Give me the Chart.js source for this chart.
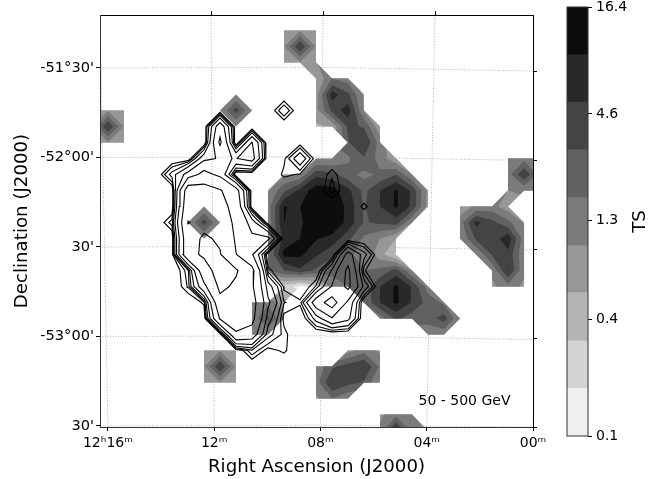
<!DOCTYPE html>
<html>
<head>
<meta charset="utf-8">
<title>TS map 50 - 500 GeV</title>
<script src="https://cdn.jsdelivr.net/npm/chart.js@4/dist/chart.umd.js"></script>
<style>
body { margin: 0; background: #fff; }
#wrap { position: relative; width: 666px; height: 479px; overflow: hidden; }
canvas { position: absolute; top: 0; }
#mapChart { left: 0; }
#barChart { left: 540px; }
</style>
</head>
<body>
<div id="wrap">
<canvas id="mapChart" width="666" height="479"></canvas>
<canvas id="barChart" width="126" height="479"></canvas>
</div>
<script>
//colour bar
const tsLevels = [0.1, 0.176, 0.31, 0.55, 0.96, 1.7, 3.0, 5.3, 9.3, 16.4];
const bandColours = ['#efefef', '#d3d3d3', '#b3b3b3', '#979797', '#7b7b7b', '#616161', '#444444', '#292929', '#0d0d0d'];
const barTicks = [0.1, 0.4, 1.3, 4.6, 16.4];

//axes
const raTicks = [16, 12, 8, 4, 0];
const raLabels = ['12ʰ16ᵐ', '12ᵐ', '08ᵐ', '04ᵐ', '00ᵐ'];
const raTopTicks = [12, 8, 4];
const decTicks = [-51.5, -52, -52.5, -53, -53.5];
const decLabels = ["-51°30'", "-52°00'", "30'", "-53°00'", "30'"];

//graticule, the sky grid is a little tilted against the frame
const raLines = [[16, 16.3], [12, 12.12], [8, 7.91], [4, 3.69], [0, -0.53]];
const decLines = [[-51.5, -51.496, -51.517], [-52, -51.996, -52.017], [-52.5, -52.496, -52.517], [-53, -52.996, -53.017], [-53.5, -53.496, -53.505]];

//TS map: [row, first column, values along the row]
//values are positions on the colour bar, 0 is TS 0.1 and 9 is TS 16.4. Nodes not listed are empty
const tsRows = [
    [0, 11, [3.9, 3.9, 3.9]],
    [1, 11, [3.9, 7, 3.9]],
    [2, 11, [3.9, 3.9, 3.9]],
    [3, 13, [3, 5, 4.5]],
    [4, 8, [3.9]], [4, 13, [3.5, 7.5, 6.2, 3.8]],
    [5, -1, [3.9, 3.9, 3.9]], [5, 7, [3.9, 6.5, 3.9]], [5, 13, [3.6, 6.3, 7.6, 3.9]],
    [6, -1, [3.9, 7, 3.9]], [6, 8, [3.9]], [6, 13, [2.8, 3.2, 6.2, 5.9, 3.2]],
    [7, -1, [3.9, 3.9, 3.9]], [7, 15, [5.9, 7.05, 4.5]],
    [8, 13, [3.9, 3.9, 4.8, 5.9, 4.6, 3.2]], [8, 25, [4.1, 4.6, 4.1]],
    [9, 11, [3.8, 4.2, 6.7, 6.3, 5.4, 4.7, 5.2, 5.95, 4.0]], [9, 25, [4.6, 6.9, 4.6]],
    [10, 10, [3.9, 5.8, 7.3, 8.6, 8.5, 7.3, 5.7, 7, 8.15, 6.8, 3.7]], [10, 25, [4, 4.2, 4]],
    [11, 6, [3.9]], [11, 10, [4.5, 8.005, 7.98, 8.9, 8.9, 7.7, 5.9, 7, 8.15, 6.8, 3.6]], [11, 22, [3.4, 4.2, 4.4, 3.4]],
    [12, 5, [3.9, 6.5, 3.9]], [12, 10, [4.3, 8.005, 7.8, 8.9, 8.8, 7.7, 5.9, 6.2, 6.5, 4]], [12, 22, [4.5, 7.3, 6.3, 5.3, 3.9]],
    [13, 6, [3.9]], [13, 10, [4.4, 7.4, 8, 8.1, 7.7, 6.3, 4.8, 4, 3]], [13, 22, [4, 6.2, 6.4, 7.7, 4.4]],
    [14, 10, [4.8, 8.3, 8.25, 7.2, 6.2, 5.1, 4.8, 3.4, 1.8]], [14, 23, [4, 6.1, 6.7, 4.2]],
    [15, 10, [5, 6, 6.8, 5.8, 5.3, 5, 5, 5.3, 6.4, 4]], [15, 24, [4.2, 7.1, 4.2]],
    [16, 11, [1.5, 0.5, 1.5, 4.5, 5, 5.2, 7, 8.2, 6.9, 4.5]], [16, 24, [3.8, 4.6, 3.8]],
    [17, 9, [4, 4.7, 3.5]], [17, 16, [5.2, 7, 8.2, 6.9, 5.6, 4.8]],
    [18, 9, [4.3, 6.2, 4]], [18, 17, [4.5, 6.2, 5.5, 5.5, 6.5, 4]],
    [19, 9, [4, 4]], [19, 20, [4.2, 4.2]],
    [20, 6, [3.9, 3.9, 3.9]], [20, 15, [3.6, 4.6, 3.8]],
    [21, 6, [3.9, 7, 3.9]], [21, 13, [4.2, 5.8, 6.5, 7.05, 4.8]],
    [22, 6, [3.9, 3.9, 3.9]], [22, 13, [4.5, 7.05, 6.3, 5.9, 3.8]],
    [23, 13, [3.8, 5, 4.2]],
    [24, 17, [3.8, 4.6, 4]],
    [25, 17, [4.2, 7.5, 4.5, 3.9]]
];

//second map, drawn as black contour lines. Nodes not listed are 0
const lineLevels = [1, 1.6, 2.5, 4, 6.3, 10, 16, 25];
const lineRows = [
    [5, 11, [2.45]],
    [6, 7, [8.4]],
    [7, 7, [10.8, 0, 6.4]], [7, 12, [0.5]],
    [8, 6, [5.5, 6.6, 6.2, 7.5]], [8, 11, [0.8, 3.63, 0.5]],
    [9, 4, [3, 7.5, 11.5, 9]], [9, 11, [1.2, 0.9]], [9, 14, [1.45]],
    [10, 5, [20, 19, 16.5, 12]], [10, 14, [2]],
    [11, 5, [22, 20, 18, 14]], [11, 16, [1.25]],
    [12, 4, [2, 25.3, 23, 19, 15, 8]],
    [13, 5, [22, 26, 24, 15, 11, 11]],
    [14, 5, [23, 26, 25.5, 16.2, 10.5]], [14, 15, [7.5, 3]],
    [15, 5, [2, 22, 28, 26, 18, 1.3]], [15, 14, [4.2, 11, 1.1]],
    [16, 5, [1.7, 14, 27, 23.5, 17, 5, 0.8]], [16, 13, [1.7, 6.5, 11, 3.5]],
    [17, 6, [1.2, 22.5, 24, 19, 7, 1.65, 1.2, 8, 12, 5.6]],
    [18, 7, [16.5, 20, 18, 5, 0.7]], [18, 13, [3, 6, 4.5]],
    [19, 8, [15, 13, 3, 1.3]],
    [20, 9, [2.2, 0.6, 1.2]]
];

//the map grid: column -1..27, row -1..25
const ra0 = 16, raStep = 0.6024, dec0 = -51.2905, decStep = 0.08939;
const nCols = 29, nRows = 27;

function makeGrid(rows, empty) {
    var grid = [];
    for (var r = 0; r < nRows; r++) {
        grid.push(new Array(nCols).fill(empty));
    }
    rows.forEach(function (row) {
        row[2].forEach(function (v, k) {
            grid[row[0] + 1][row[1] + 1 + k] = v;
        });
    });
    return grid;
}

//closed outlines of the part of the grid that is >= level
//a quad with one empty corner still gives its triangle, with two or more it is skipped
function contourLoops(grid, level) {
    var edges = {};
    function key(p) { return p[0].toFixed(4) + ',' + p[1].toFixed(4); }
    function addEdge(a, b) {
        var ka = key(a), kb = key(b);
        if (ka == kb) return;
        if (edges[kb + '|' + ka]) {
            delete edges[kb + '|' + ka];
        } else {
            edges[ka + '|' + kb] = { from: ka, to: kb, a: a };
        }
    }
    function addPoly(pts) {
        if (pts.length < 3) return;
        pts.forEach(function (p, k) { addEdge(p, pts[(k + 1) % pts.length]); });
    }
    function cross(p, q) {
        var t = (level - p.v) / (q.v - p.v);
        return [p.x + (q.x - p.x) * t, p.y + (q.y - p.y) * t];
    }
    for (var r = 0; r < nRows - 1; r++) {
        for (var c = 0; c < nCols - 1; c++) {
            var corners = [[c, r], [c + 1, r], [c + 1, r + 1], [c, r + 1]].map(function (p) {
                return { x: p[0], y: p[1], v: grid[p[1]][p[0]] };
            }).filter(function (p) { return p.v !== null; });
            if (corners.length < 3) continue;
            var n = corners.length;
            var high = corners.map(function (p) { return p.v >= level; });
            //saddle: the two high corners stay apart when the middle of the quad is low
            if (n == 4 && high[0] == high[2] && high[1] == high[3] && high[0] != high[1]) {
                var mean = (corners[0].v + corners[1].v + corners[2].v + corners[3].v) / 4;
                if (mean < level) {
                    corners.forEach(function (p, k) {
                        if (!high[k]) return;
                        addPoly([cross(corners[(k + 3) % 4], p), [p.x, p.y], cross(p, corners[(k + 1) % 4])]);
                    });
                    continue;
                }
            }
            var pts = [];
            corners.forEach(function (p, k) {
                var q = corners[(k + 1) % n];
                if (high[k]) pts.push([p.x, p.y]);
                if (high[k] != high[(k + 1) % n]) pts.push(cross(p, q));
            });
            addPoly(pts);
        }
    }
    var next = {};
    Object.keys(edges).forEach(function (k) {
        var e = edges[k];
        (next[e.from] = next[e.from] || []).push(e);
    });
    var loops = [];
    Object.keys(next).forEach(function (start) {
        while (next[start].length) {
            var loop = [], k = start;
            do {
                var e = next[k].pop();
                if (!e) break;
                loop.push(e.a);
                k = e.to;
            } while (k != start);
            loops.push(loop);
        }
    });
    return loops;
}

function loopArea(loop) {
    var a = 0;
    loop.forEach(function (p, k) {
        var q = loop[(k + 1) % loop.length];
        a += p[0] * q[1] - q[0] * p[1];
    });
    return a / 2;
}

function toData(loop) {
    var pts = loop.map(function (p) {
        return { x: ra0 - (p[0] - 1) * raStep, y: dec0 - (p[1] - 1) * decStep };
    });
    pts.push(pts[0]);
    return pts;
}

var mapSets = [];

//graticule at the bottom
function gridSet(data) {
    return { data: data, showLine: true, pointRadius: 0, borderColor: '#b4b4b4', borderWidth: 1, borderDash: [1, 1.6], fill: false };
}
raLines.forEach(function (l) {
    mapSets.push(gridSet([{ x: l[0], y: -53.5056 }, { x: l[1], y: -51.204 }]));
});
decLines.forEach(function (l) {
    mapSets.push(gridSet([{ x: 16.3, y: l[0] }, { x: 8.15, y: l[1] }, { x: 0, y: l[2] }]));
});

//filled TS bands, biggest outline first so the inner ones paint over it. Holes get the colour below
var tsGrid = makeGrid(tsRows, null);
var shapes = [];
bandColours.forEach(function (colour, k) {
    contourLoops(tsGrid, k).forEach(function (loop) {
        var a = loopArea(loop);
        shapes.push({
            loop: loop, level: k, hole: a < 0, area: Math.round(Math.abs(a) * 1000),
            colour: a < 0 ? (k == 0 ? '#ffffff' : bandColours[k - 1]) : colour
        });
    });
});
shapes.sort(function (a, b) {
    if (a.area != b.area) return b.area - a.area;
    return a.hole ? b.level - a.level : a.level - b.level;
});
shapes.forEach(function (s) {
    mapSets.push({ data: toData(s.loop), showLine: true, pointRadius: 0, borderWidth: 0, backgroundColor: s.colour, fill: 'shape' });
});

//contour lines on top
var lineGrid = makeGrid(lineRows, 0);
lineLevels.forEach(function (level) {
    contourLoops(lineGrid, level).forEach(function (loop) {
        mapSets.push({ data: toData(loop), showLine: true, pointRadius: 0, borderColor: '#000', borderWidth: 1.1, fill: false });
    });
});

//lower order is drawn later
mapSets.forEach(function (d, k) { d.order = mapSets.length - k; });

Chart.defaults.font.family = '"DejaVu Sans"';
Chart.defaults.color = '#000';

function tickGrid(len) {
    return { drawOnChartArea: false, drawTicks: true, tickLength: len, color: '#000', lineWidth: 1 };
}

const mapText = {
    id: 'mapText',
    afterDraw: function (chart) {
        var ctx = chart.ctx;
        ctx.save();
        ctx.font = '14px "DejaVu Sans"';
        ctx.fillStyle = '#000';
        ctx.textAlign = 'center';
        ctx.textBaseline = 'middle';
        ctx.fillText('50 - 500 GeV', chart.scales.x.getPixelForValue(2.58), chart.scales.y.getPixelForValue(-53.36));
        ctx.restore();
    }
};

new Chart(document.getElementById('mapChart'), {
    type: 'scatter',
    data: { datasets: mapSets },
    plugins: [mapText],
    options: {
        responsive: false,
        animation: false,
        events: [],
        layout: { padding: 0 },
        plugins: { legend: { display: false }, tooltip: { enabled: false } },
        scales: {
            x: {
                type: 'linear', position: 'bottom', reverse: true, min: 0, max: 16.3,
                grid: tickGrid(4),
                border: { color: '#333', width: 1, z: 1 },
                ticks: { autoSkip: false, maxRotation: 0, padding: 4, font: { size: 14 }, callback: function (v, i) { return raLabels[i]; } },
                afterBuildTicks: function (s) { s.ticks = raTicks.map(function (v) { return { value: v }; }); },
                afterFit: function (s) { s.height = 52; },
                title: { display: true, text: 'Right Ascension (J2000)', font: { size: 18.2 }, padding: { top: 0, bottom: 1 } }
            },
            x2: {
                type: 'linear', position: 'top', reverse: true, min: 0.5, max: 15.98,
                grid: tickGrid(4),
                border: { color: '#000', width: 1, z: 1 },
                ticks: { autoSkip: false, maxRotation: 0, callback: function () { return ''; } },
                afterBuildTicks: function (s) { s.ticks = raTopTicks.map(function (v) { return { value: v }; }); },
                afterFit: function (s) { s.height = 15; }
            },
            y: {
                type: 'linear', position: 'left', min: -53.5056, max: -51.204,
                grid: tickGrid(4),
                border: { color: '#333', width: 1, z: 1 },
                ticks: { autoSkip: false, padding: 2, font: { size: 14.6 }, callback: function (v, i) { return decLabels[i]; } },
                afterBuildTicks: function (s) { s.ticks = decTicks.map(function (v) { return { value: v }; }); },
                afterFit: function (s) { s.width = 100; },
                title: { display: true, text: 'Declination (J2000)', font: { size: 18.2 }, padding: { top: 11, bottom: 0 } }
            },
            y2: {
                type: 'linear', position: 'right', min: -53.5, max: -51.185,
                grid: tickGrid(4),
                border: { color: '#000', width: 1, z: 1 },
                ticks: { display: false },
                afterBuildTicks: function (s) { s.ticks = decTicks.map(function (v) { return { value: v }; }); },
                afterFit: function (s) { s.width = 133; }
            }
        }
    }
});

//colour bar
const barText = {
    id: 'barText',
    afterDraw: function (chart) {
        var ctx = chart.ctx, a = chart.chartArea;
        ctx.save();
        ctx.strokeStyle = '#333';
        ctx.lineWidth = 1;
        ctx.strokeRect(a.left, a.top, a.right - a.left, a.bottom - a.top);
        ctx.translate(100, (a.top + a.bottom) / 2);
        ctx.rotate(-Math.PI / 2);
        ctx.font = '18.2px "DejaVu Sans"';
        ctx.fillStyle = '#000';
        ctx.textAlign = 'center';
        ctx.textBaseline = 'middle';
        ctx.fillText('TS', 0, 0);
        ctx.restore();
    }
};

new Chart(document.getElementById('barChart'), {
    type: 'bar',
    data: {
        labels: ['TS'],
        datasets: bandColours.map(function (colour, k) {
            return { data: [[tsLevels[k], tsLevels[k + 1]]], backgroundColor: colour, grouped: false, barPercentage: 1, categoryPercentage: 1, borderWidth: 0 };
        })
    },
    plugins: [barText],
    options: {
        responsive: false,
        animation: false,
        events: [],
        layout: { padding: { left: 27, top: 7, bottom: 43 } },
        plugins: { legend: { display: false }, tooltip: { enabled: false } },
        scales: {
            x: { display: false },
            y: {
                type: 'logarithmic', position: 'right', min: 0.1, max: 16.4,
                grid: tickGrid(4),
                border: { display: false },
                ticks: { autoSkip: false, padding: 4, font: { size: 14 }, callback: function (v, i) { return barTicks[i].toFixed(1); } },
                afterBuildTicks: function (s) { s.ticks = barTicks.map(function (v) { return { value: v }; }); },
                afterFit: function (s) { s.width = 78; s.paddingTop = 0; s.paddingBottom = 0; }
            }
        }
    }
});
</script>
</body>
</html>
